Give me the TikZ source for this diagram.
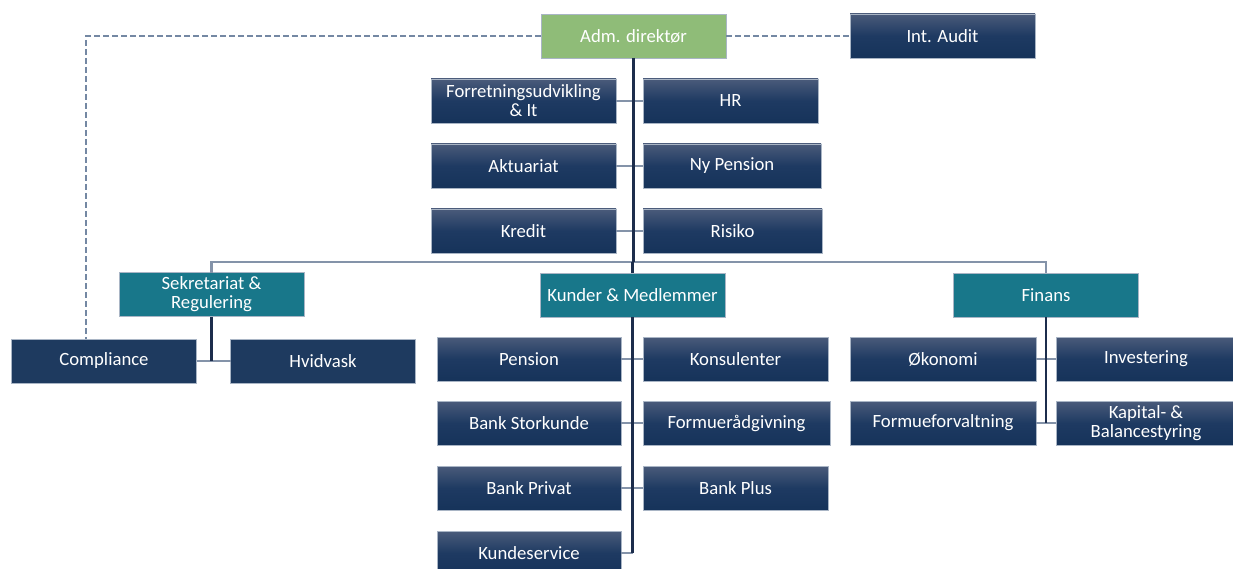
\documentclass[tikz,border=0pt]{standalone}
\usepackage{fontspec}
\setmainfont{Carlito}
\usepackage{tikz}
\usetikzlibrary{positioning}

\definecolor{navytop}{HTML}{4A5B7A}
\definecolor{navymid}{HTML}{1E3A62}
\definecolor{navybot}{HTML}{16335A}
\definecolor{navyflat}{HTML}{1E3A5F}
\definecolor{tealbox}{HTML}{18778A}
\definecolor{greenbox}{HTML}{8FBC78}
\definecolor{edgeline}{HTML}{A9B5C5}
\definecolor{trunkline}{HTML}{1C2D4C}
\definecolor{stubline}{HTML}{8493A9}
\definecolor{dashline}{HTML}{7488A3}

\begin{document}
\begin{tikzpicture}[
        x=1pt, y=-1pt,
        box/.style = {
            draw=edgeline,
            line width=0.6pt,
            minimum width=#1,
            minimum height=44pt,
            inner sep=0pt,
            outer sep=0pt,
            align=center,
            text=white,
            font=\fontsize{18.7}{21}\selectfont
        },
        box/.default = 185pt,
        unit/.style = {box=#1, top color=navytop, bottom color=navybot, middle color=navymid},
        unit/.default = 185pt,
        flat/.style = {box, fill=navyflat},
        division/.style = {box, fill=tealbox},
        chief/.style = {box, fill=greenbox},
        trunk/.style = {draw=trunkline, line width=2.2pt},
        stub/.style = {draw=stubline, line width=2.2pt},
        staff/.style = {draw=dashline, line width=1.4pt, dash pattern=on 6pt off 3pt},
        node distance = {21pt}
    ]
    \useasboundingbox (0,0) rectangle (1233,569);

    % direktion
    \node[chief] (adm) at (633.5,36) {Adm. direktør};
    \node[unit] (audit) [right=124pt of adm] {Int. Audit};
    \node[unit] (fou) at (523.5,101) {Forretningsudvikling\\[-2pt]\& It};
    \node[unit=175pt] (hr) [right=27pt of fou] {HR};
    \node[unit] (akt) [below=of fou] {Aktuariat};
    \node[unit=178pt] (nyp) [right=27pt of akt] {Ny Pension};
    \node[unit] (kredit) [below=of akt] {Kredit};
    \node[unit=179pt] (risiko) [right=27pt of kredit] {Risiko};

    % divisioner
    \node[division] (sek) at (211.5,294.5) {Sekretariat \&\\[-2pt]Regulering};
    \node[division] (kunder) at (632.5,295) {Kunder \& Medlemmer};
    \node[division] (finans) at (1046,295) {Finans};

    \node[flat] (compliance) at (104,361) {Compliance};
    \node[flat] (hvidvask) [right=34pt of compliance] {Hvidvask};

    \node[unit=184pt] (pension) at (529,359) {Pension};
    \node[unit] (konsulenter) [right=22pt of pension] {Konsulenter};
    \node[unit=184pt] (storkunde) [below=20pt of pension] {Bank Storkunde};
    \node[unit=187pt] (formue) [right=22pt of storkunde] {Formuerådgivning};
    \node[unit=184pt] (privat) [below=of storkunde] {Bank Privat};
    \node[unit] (plus) [right=22pt of privat] {Bank Plus};
    \node[unit=184pt] (kundeservice) [below=of privat] {Kundeservice};

    \node[unit=186pt] (okonomi) at (943,359) {Økonomi};
    \node[unit=180pt] (investering) [right=20pt of okonomi] {Investering};
    \node[unit=186pt] (forvaltning) [below=20pt of okonomi] {Formueforvaltning};
    \node[unit=180pt] (kapital) [right=20pt of forvaltning] {Kapital- \&\\[-2pt]Balancestyring};

    \coordinate (bus) at (632,262);

    \draw[stub] (fou.east) -- (hr.west);
    \draw[stub] (akt.east) -- (nyp.west);
    \draw[stub] (kredit.east) -- (risiko.west);
    \draw[stub] (sek.north) -- (sek.north |- bus) -- (finans.north |- bus) -- (finans.north);
    \draw[stub] (compliance.east) -- (hvidvask.west);
    \draw[stub] (pension.east) -- (konsulenter.west);
    \draw[stub] (storkunde.east) -- (formue.west);
    \draw[stub] (privat.east) -- (plus.west);
    \draw[stub] (kundeservice.east) -- (kundeservice.east -| kunder.south);
    \draw[stub] (okonomi.east) -- (investering.west);
    \draw[stub] (forvaltning.east) -- (kapital.west);

    \draw[trunk] (adm.south) -- (adm.south |- bus);
    \draw[trunk] (kunder.north) -- (kunder.north |- bus);
    \draw[trunk] (sek.south) -- (sek.south |- compliance.east);
    \draw[trunk] (kunder.south) -- (kunder.south |- kundeservice.east);
    \draw[trunk] (finans.south) -- (finans.south |- forvaltning.east);

    \draw[staff] (adm.west) -| ([xshift=-18pt]compliance.north);
    \draw[staff] (adm.east) -- (audit.west);
\end{tikzpicture}
\end{document}
